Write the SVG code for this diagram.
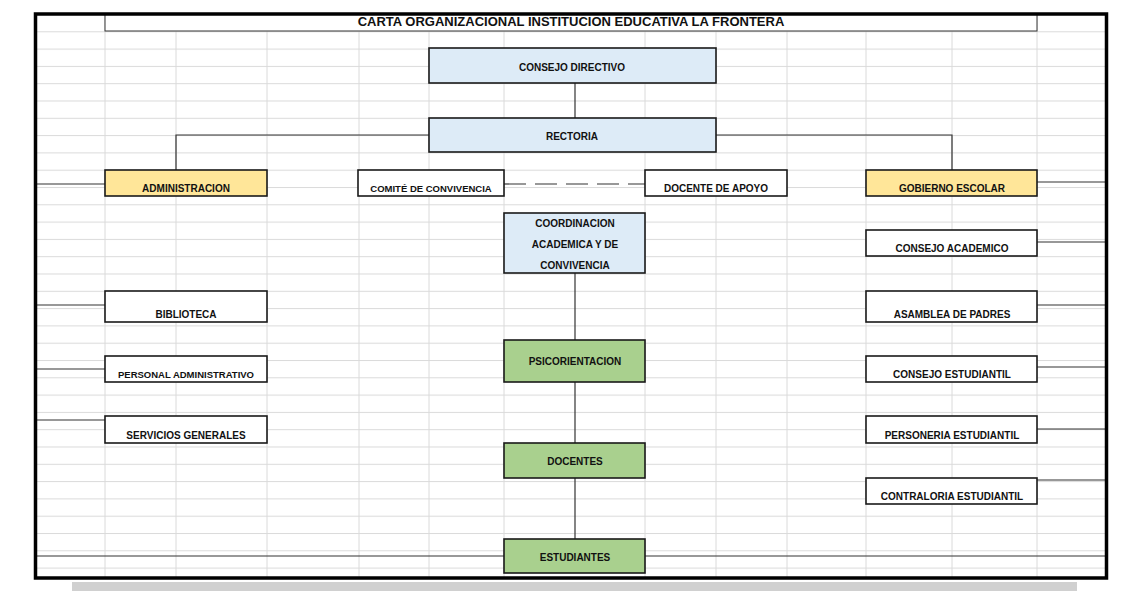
<svg xmlns="http://www.w3.org/2000/svg" width="1135" height="591" viewBox="0 0 1135 591">
<defs>
<pattern id="rows" x="0" y="14" width="10" height="17.3" patternUnits="userSpaceOnUse"><line x1="0" y1="0.5" x2="10" y2="0.5" stroke="#dadada" stroke-width="1"/></pattern>
</defs>
<style>
.b{stroke:#1a1a1a;stroke-width:1.6}
.w{fill:#fff}.bl{fill:#ddebf7}.y{fill:#ffe699}.g{fill:#a9d08e}
text{font-family:"Liberation Sans",Arial,sans-serif;font-weight:bold;font-size:10px;fill:#111;text-anchor:middle}
.c{stroke:#333;stroke-width:1.2;fill:none}
.grid line{stroke:#dadada;stroke-width:1}
</style>
<rect width="1135" height="591" fill="#fff"/>
<rect x="35" y="14" width="1072" height="564" fill="url(#rows)"/>
<g class="grid">
<line x1="105" y1="14" x2="105" y2="578"/><line x1="176" y1="14" x2="176" y2="578"/><line x1="267" y1="14" x2="267" y2="578"/><line x1="359" y1="14" x2="359" y2="578"/><line x1="429" y1="14" x2="429" y2="578"/><line x1="504" y1="14" x2="504" y2="578"/><line x1="645" y1="14" x2="645" y2="578"/><line x1="716" y1="14" x2="716" y2="578"/><line x1="787" y1="14" x2="787" y2="578"/><line x1="866" y1="14" x2="866" y2="578"/><line x1="952" y1="14" x2="952" y2="578"/><line x1="1037" y1="14" x2="1037" y2="578"/>
</g>
<rect x="72" y="582" width="1005" height="9" fill="#d0d0d0"/>
<g id="connectors" class="c">
<line x1="575" y1="83" x2="575" y2="118"/>
<polyline points="429,135 176,135 176,170"/>
<polyline points="716,135 952,135 952,170"/>
<line x1="504" y1="184" x2="645" y2="184" stroke-dasharray="22,9"/>
<line x1="575" y1="273" x2="575" y2="340"/>
<line x1="575" y1="382" x2="575" y2="443"/>
<line x1="575" y1="478" x2="575" y2="539"/>
<line x1="35" y1="184" x2="105" y2="184"/><line x1="35" y1="305" x2="105" y2="305"/><line x1="35" y1="369" x2="105" y2="369"/><line x1="35" y1="420" x2="105" y2="420"/>
<line x1="1037" y1="182" x2="1107" y2="182"/><line x1="1037" y1="242" x2="1107" y2="242"/><line x1="1037" y1="305" x2="1107" y2="305"/><line x1="1037" y1="367" x2="1107" y2="367"/><line x1="1037" y1="429" x2="1107" y2="429"/><line x1="1037" y1="480" x2="1107" y2="480"/>
<line x1="35" y1="556" x2="504" y2="556"/><line x1="645" y1="556" x2="1107" y2="556"/>
</g>
<g id="title"><rect x="105" y="14" width="932" height="17" class="w" stroke="#333" stroke-width="1"/><text x="571" y="26" style="font-size:13px">CARTA ORGANIZACIONAL INSTITUCION EDUCATIVA LA FRONTERA</text></g>
<g id="consejo-directivo"><rect x="429" y="48" width="287" height="35" class="bl b"/><text x="572" y="71">CONSEJO DIRECTIVO</text></g>
<g id="rectoria"><rect x="429" y="118" width="287" height="34" class="bl b"/><text x="572" y="140">RECTORIA</text></g>
<g id="administracion"><rect x="105" y="170" width="162" height="26" class="y b"/><text x="186" y="192">ADMINISTRACION</text></g>
<g id="comite"><rect x="358" y="170" width="146" height="26" class="w b"/><text x="431" y="192" style="font-size:9.5px">COMITÉ DE CONVIVENCIA</text></g>
<g id="docente-apoyo"><rect x="645" y="170" width="142" height="26" class="w b"/><text x="716" y="192">DOCENTE DE APOYO</text></g>
<g id="gobierno"><rect x="866" y="170" width="171" height="26" class="y b"/><text x="952" y="192">GOBIERNO ESCOLAR</text></g>
<g id="coordinacion"><rect x="504" y="213" width="141" height="60" class="bl b"/><text x="575" y="227">COORDINACION</text><text x="575" y="248">ACADEMICA Y DE</text><text x="575" y="269">CONVIVENCIA</text></g>
<g id="biblioteca"><rect x="105" y="291" width="162" height="31" class="w b"/><text x="186" y="318">BIBLIOTECA</text></g>
<g id="personal"><rect x="105" y="356" width="162" height="26" class="w b"/><text x="186" y="378" style="font-size:9.5px">PERSONAL ADMINISTRATIVO</text></g>
<g id="servicios"><rect x="105" y="416" width="162" height="27" class="w b"/><text x="186" y="439">SERVICIOS GENERALES</text></g>
<g id="consejo-academico"><rect x="866" y="230" width="171" height="26" class="w b"/><text x="952" y="252">CONSEJO ACADEMICO</text></g>
<g id="asamblea"><rect x="866" y="291" width="171" height="31" class="w b"/><text x="952" y="318">ASAMBLEA DE PADRES</text></g>
<g id="consejo-estudiantil"><rect x="866" y="356" width="171" height="26" class="w b"/><text x="952" y="378">CONSEJO ESTUDIANTIL</text></g>
<g id="personeria"><rect x="866" y="416" width="171" height="27" class="w b"/><text x="952" y="439">PERSONERIA ESTUDIANTIL</text></g>
<g id="contraloria"><rect x="866" y="478" width="171" height="26" class="w b"/><text x="952" y="500">CONTRALORIA ESTUDIANTIL</text></g>
<g id="psicorientacion"><rect x="504" y="340" width="141" height="42" class="g b"/><text x="575" y="365">PSICORIENTACION</text></g>
<g id="docentes"><rect x="504" y="443" width="141" height="35" class="g b"/><text x="575" y="465">DOCENTES</text></g>
<g id="estudiantes"><rect x="504" y="539" width="141" height="34" class="g b"/><text x="575" y="561">ESTUDIANTES</text></g>
<rect x="35.5" y="14" width="1071" height="564" fill="none" stroke="#000" stroke-width="3.5"/>
</svg>
